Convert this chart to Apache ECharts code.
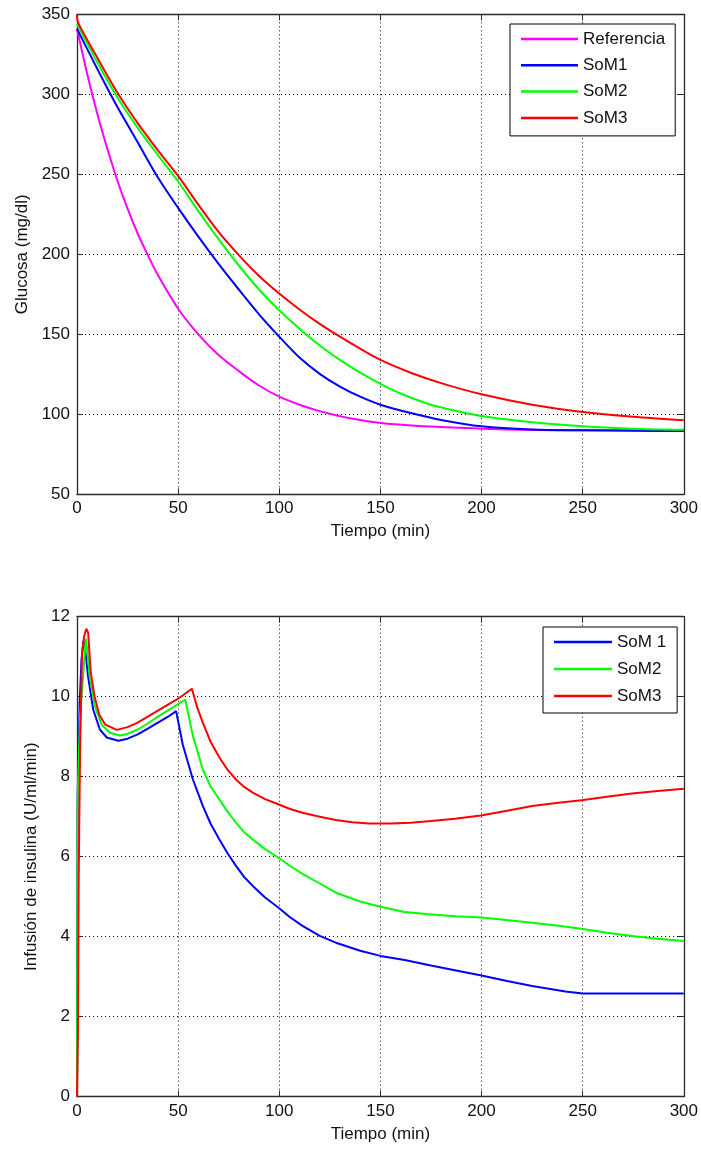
<!DOCTYPE html>
<html>
<head>
<meta charset="utf-8">
<script src="https://cdn.jsdelivr.net/npm/echarts@6/dist/echarts.min.js"></script>
<style>
html,body{margin:0;padding:0;background:#fff;}
#c{width:701px;height:1149px;}
</style>
</head>
<body>
<div id="c"></div>
<script>
// ---------- Data: top plot (Glucosa mg/dl vs Tiempo min) ----------
var glucoseRef = [[0,341],[5,313],[10,288],[15,266],[20,246],[25,228.5],[30,213],[35,199.5],[40,187],[50,166],[60,150],[70,137],[80,127],[90,118],[100,111],[110,106],[120,102],[135,97.5],[150,94.6],[175,92.3],[200,91],[225,90.2],[250,90],[300,90]];
var glucoseSoM1 = [[0,341],[10,316],[20,292],[30,270],[40,248],[50,229],[60,211],[70,194],[80,178],[90,162.5],[100,148.5],[110,135.5],[120,125.3],[130,117.3],[140,111],[150,106],[165,100.8],[180,96.5],[200,92.5],[225,90.5],[250,90],[275,89.7],[300,89.5]];
var glucoseSoM2 = [[0,344],[10,320],[20,298],[30,279],[40,262],[50,245.5],[60,227],[70,209.5],[80,193],[90,178],[100,165],[110,153.5],[120,143],[130,134],[140,126],[150,119],[160,113],[175,106],[190,101.5],[200,99],[225,95],[250,92.5],[275,91],[300,90.3]];
var glucoseSoM3 = [[0,350],[0.5,345],[10,323],[20,301],[30,282],[40,265],[50,249],[60,231],[70,214],[80,199.5],[90,186.5],[100,175.5],[110,165.5],[120,156.5],[130,148.5],[140,141],[150,134],[165,126],[180,119.5],[200,112.5],[225,106],[250,101.5],[275,98.5],[300,96.3]];

// ---------- Data: bottom plot (Infusión de insulina vs Tiempo min) ----------
var insulinSoM1 = [[0,0],[0.3,7.5],[1.3,9.8],[2.2,10.9],[3.2,11.4],[4,11.2],[5.5,10.5],[8,9.68],[11.3,9.18],[14.7,8.98],[20.5,8.9],[25,8.95],[30,9.06],[35,9.2],[40,9.35],[45,9.5],[49,9.64],[52.3,8.8],[57.3,7.93],[62.2,7.27],[66,6.83],[70.4,6.43],[74.5,6.08],[78.6,5.77],[82.5,5.5],[86.9,5.27],[93,4.98],[99.5,4.73],[105,4.5],[111.5,4.27],[120,4.02],[128,3.85],[140,3.65],[150,3.52],[162,3.42],[175,3.28],[188,3.15],[200,3.03],[212,2.9],[225,2.77],[241.5,2.63],[250,2.58],[300,2.58]];
var insulinSoM2 = [[0,0],[0.3,7.4],[1.5,9.5],[3,10.5],[4.3,11.45],[5,11.2],[6.3,10.5],[8.8,9.77],[12.2,9.3],[16.3,9.1],[21.3,9.03],[25,9.07],[30,9.18],[35,9.33],[40,9.5],[47,9.72],[53.5,9.93],[57.3,9.02],[62.2,8.18],[66,7.76],[70.4,7.43],[74.5,7.12],[78.6,6.85],[82.5,6.62],[86.9,6.43],[93,6.19],[99.5,5.98],[105,5.78],[111.5,5.57],[120,5.33],[128,5.1],[140,4.88],[150,4.75],[162,4.62],[174,4.56],[187,4.51],[200,4.48],[212,4.42],[225,4.35],[237,4.28],[249.4,4.2],[262,4.1],[274.4,4.02],[287,3.95],[300,3.89]];
var insulinSoM3 = [[0,0],[0.5,1.8],[0.8,5.3],[1.5,8.6],[2.5,11.1],[3.5,11.5],[4.6,11.7],[5.5,11.6],[6.8,10.6],[8.7,10.0],[11,9.55],[14,9.3],[19.7,9.17],[25,9.24],[30,9.35],[35,9.5],[40,9.65],[45,9.8],[50,9.95],[56.8,10.2],[59.5,9.72],[62.2,9.35],[66,8.88],[70.4,8.48],[74.5,8.17],[78.6,7.93],[82.5,7.75],[86.9,7.6],[93,7.44],[99.5,7.31],[105,7.2],[111.5,7.1],[120,7.0],[128,6.92],[136,6.86],[144.4,6.83],[155,6.83],[165,6.85],[175,6.89],[187,6.95],[199.6,7.03],[212,7.14],[225,7.27],[237,7.34],[249.4,7.41],[262,7.5],[274.4,7.58],[287,7.64],[300,7.7]];

var topLegend = ['Referencia','SoM1','SoM2','SoM3'];
var bottomLegend = ['SoM 1','SoM2','SoM3'];
var xName = 'Tiempo (min)';
var yNameTop = 'Glucosa (mg/dl)';
var yNameBottom = 'Infusión de insulina (U/ml/min)';

var FONT = 'Liberation Sans, Arial, sans-serif';
var TXT = '#111';
var AX = '#2a2a2a';

function mainX(grid){
  return {
    type:'value', gridIndex:grid, min:0, max:300, interval:50, position:'bottom',
    name:xName, nameLocation:'middle', nameGap:29,
    nameTextStyle:{fontSize:17, fontFamily:FONT, color:TXT},
    axisLine:{show:true, lineStyle:{color:AX, width:1.3}},
    axisTick:{show:true, inside:true, length:6, lineStyle:{color:AX, width:1}},
    axisLabel:{fontSize:17, fontFamily:FONT, color:TXT, margin:6},
    splitLine:{show:true, lineStyle:{color:'#000', width:1, type:[1,3]}}
  };
}
function sideX(grid){
  return {
    type:'value', gridIndex:grid, min:0, max:300, interval:50, position:'top',
    axisLine:{show:true, onZero:false, lineStyle:{color:AX, width:1.3}},
    axisTick:{show:true, inside:true, length:6, lineStyle:{color:AX, width:1}},
    axisLabel:{show:false}, splitLine:{show:false}
  };
}
function mainY(grid, min, max, iv, name, gap){
  return {
    type:'value', gridIndex:grid, min:min, max:max, interval:iv, position:'left',
    name:name, nameLocation:'middle', nameGap:gap,
    nameTextStyle:{fontSize:17, fontFamily:FONT, color:TXT},
    axisLine:{show:true, onZero:false, lineStyle:{color:AX, width:1.3}},
    axisTick:{show:true, inside:true, length:6, lineStyle:{color:AX, width:1}},
    axisLabel:{fontSize:17, fontFamily:FONT, color:TXT, margin:7},
    splitLine:{show:true, lineStyle:{color:'#000', width:1, type:[1,3]}}
  };
}
function sideY(grid, min, max, iv){
  return {
    type:'value', gridIndex:grid, min:min, max:max, interval:iv, position:'right',
    axisLine:{show:true, onZero:false, lineStyle:{color:AX, width:1.3}},
    axisTick:{show:true, inside:true, length:6, lineStyle:{color:AX, width:1}},
    axisLabel:{show:false}, splitLine:{show:false}
  };
}
function line(name, data, color, xi, yi, smooth){
  return {
    type:'line', name:name, data:data, xAxisIndex:xi, yAxisIndex:yi,
    symbol:'none', showSymbol:false,
    smooth:smooth ? 0.3 : false,
    lineStyle:{color:color, width:2}, itemStyle:{color:color},
    emphasis:{disabled:true}, silent:true
  };
}
var legendText = {fontSize:17, fontFamily:FONT, color:TXT, lineHeight:20};

var chart = echarts.init(document.getElementById('c'), null, {renderer:'canvas'});
chart.setOption({
  animation:false,
  backgroundColor:'#fff',
  grid:[
    {left:77, top:14.3, width:608, height:480, containLabel:false},
    {left:77, top:616.7, width:608, height:480, containLabel:false}
  ],
  xAxis:[ mainX(0), sideX(0), mainX(1), sideX(1) ],
  yAxis:[
    mainY(0, 50, 350, 50, yNameTop, 45), sideY(0, 50, 350, 50),
    mainY(1, 0, 12, 2, yNameBottom, 35), sideY(1, 0, 12, 2)
  ],
  legend:[
    {data:topLegend, left:510, top:24, orient:'vertical', icon:'rect', itemWidth:57, itemHeight:2.5, itemGap:6.3,
     padding:[5,10,8,11], borderColor:'#000', borderWidth:1, backgroundColor:'#fff',
     textStyle:legendText, selectedMode:false},
    {data:bottomLegend, left:543, top:627, orient:'vertical', icon:'rect', itemWidth:58, itemHeight:2.5, itemGap:7,
     padding:[5,11,7,11], borderColor:'#000', borderWidth:1, backgroundColor:'#fff',
     textStyle:legendText, selectedMode:false}
  ],
  series:[
    line('Referencia', glucoseRef, '#ff00ff', 0, 0, true),
    line('SoM1', glucoseSoM1, '#0000ff', 0, 0, true),
    line('SoM2', glucoseSoM2, '#00ff00', 0, 0, true),
    line('SoM3', glucoseSoM3, '#ff0000', 0, 0, true),
    line('SoM 1', insulinSoM1, '#0000ff', 2, 2, false),
    line('SoM2', insulinSoM2, '#00ff00', 2, 2, false),
    line('SoM3', insulinSoM3, '#ff0000', 2, 2, false)
  ]
});
</script>
</body>
</html>
